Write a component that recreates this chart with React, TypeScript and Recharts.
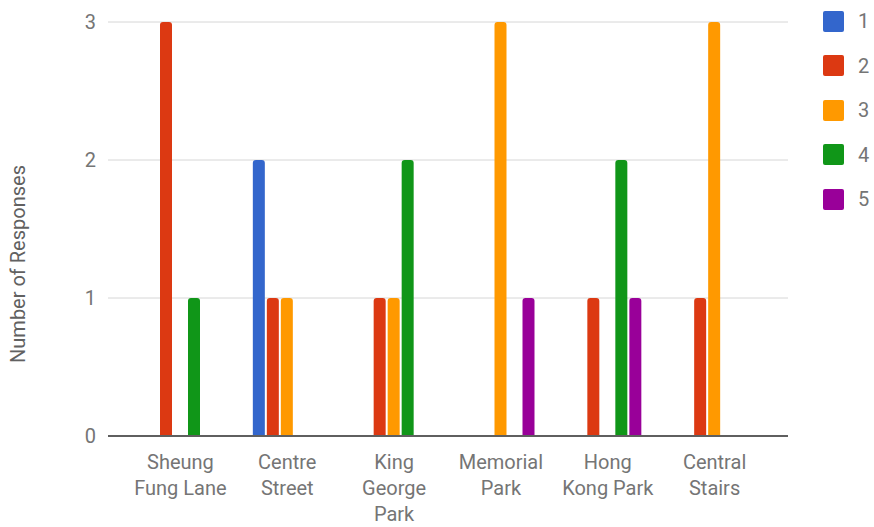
import { Bar, BarChart, CartesianGrid, Legend, XAxis, YAxis } from "recharts";

const categories = [
  "Sheung Fung Lane",
  "Centre Street",
  "King George Park",
  "Memorial Park",
  "Hong Kong Park",
  "Central Stairs",
];

// how each category label wraps under the axis
const tickLines: Record<string, string[]> = {
  "Sheung Fung Lane": ["Sheung", "Fung Lane"],
  "Centre Street": ["Centre", "Street"],
  "King George Park": ["King", "George", "Park"],
  "Memorial Park": ["Memorial", "Park"],
  "Hong Kong Park": ["Hong", "Kong Park"],
  "Central Stairs": ["Central", "Stairs"],
};

const series1 = [0, 2, 0, 0, 0, 0];
const series2 = [3, 1, 1, 0, 1, 1];
const series3 = [0, 1, 1, 3, 0, 3];
const series4 = [1, 0, 2, 0, 2, 0];
const series5 = [0, 0, 0, 1, 1, 0];

const yTicks = [0, 1, 2, 3];

const series = [
  { key: "1", values: series1, color: "#3366cc" },
  { key: "2", values: series2, color: "#dc3912" },
  { key: "3", values: series3, color: "#ff9900" },
  { key: "4", values: series4, color: "#109618" },
  { key: "5", values: series5, color: "#990099" },
];

const data = categories.map((name, i) => {
  const row: Record<string, string | number> = { name };
  series.forEach((s) => {
    row[s.key] = s.values[i];
  });
  return row;
});

const FONT = "Roboto, 'Noto Sans', sans-serif";
const FS = 20;

function CategoryTick(props: any) {
  const { x, y, payload } = props;
  const lines = tickLines[payload.value] ?? [payload.value];
  return (
    <g transform={`translate(${x},${y})`}>
      {lines.map((line, i) => (
        <text
          key={i}
          x={0}
          y={25 + i * 26}
          textAnchor="middle"
          fill="#757575"
          fontSize={FS}
          fontFamily={FONT}
        >
          {line}
        </text>
      ))}
    </g>
  );
}

function SideLegend() {
  return (
    <div style={{ fontFamily: FONT }}>
      {series.map((s) => (
        <div
          key={s.key}
          style={{ display: "flex", alignItems: "center", height: 44.5 }}
        >
          <div
            style={{
              width: 21,
              height: 21,
              borderRadius: 2,
              background: s.color,
            }}
          />
          <span style={{ marginLeft: 14, fontSize: FS, color: "#757575" }}>{s.key}</span>
        </div>
      ))}
    </div>
  );
}

export default function App() {
  return (
    <div style={{ position: "absolute", left: 0, top: 0, background: "#fff" }}>
      <BarChart
        width={874}
        height={527}
        data={data}
        margin={{ top: 22, right: 36, bottom: 0, left: 0 }}
        barSize={12}
        barGap={2}
      >
        <CartesianGrid vertical={false} stroke="#d6d6d6" />
        <XAxis
          dataKey="name"
          height={91}
          tickLine={false}
          axisLine={{ stroke: "#5f5f5f", strokeWidth: 2 }}
          tick={<CategoryTick />}
          interval={0}
          padding={{ left: 19, right: 20 }}
        />
        <YAxis
          width={108}
          domain={[0, 3]}
          ticks={yTicks}
          tickLine={false}
          axisLine={false}
          tickSize={0}
          tickMargin={12}
          tick={{ fill: "#757575", fontSize: FS, fontFamily: FONT }}
          label={{
            content: () => (
              <text
                x={25}
                y={264}
                transform="rotate(-90 25 264)"
                textAnchor="middle"
                fill="#616161"
                fontSize={FS}
                fontFamily={FONT}
              >
                Number of Responses
              </text>
            ),
          }}
        />
        <Legend
          layout="vertical"
          align="right"
          verticalAlign="top"
          content={<SideLegend />}
          wrapperStyle={{ left: 823, top: -1, width: 50 }}
        />
        {series.map((s) => (
          <Bar
            key={s.key}
            dataKey={s.key}
            fill={s.color}
            radius={[3, 3, 0, 0]}
            isAnimationActive={false}
          />
        ))}
      </BarChart>
    </div>
  );
}
